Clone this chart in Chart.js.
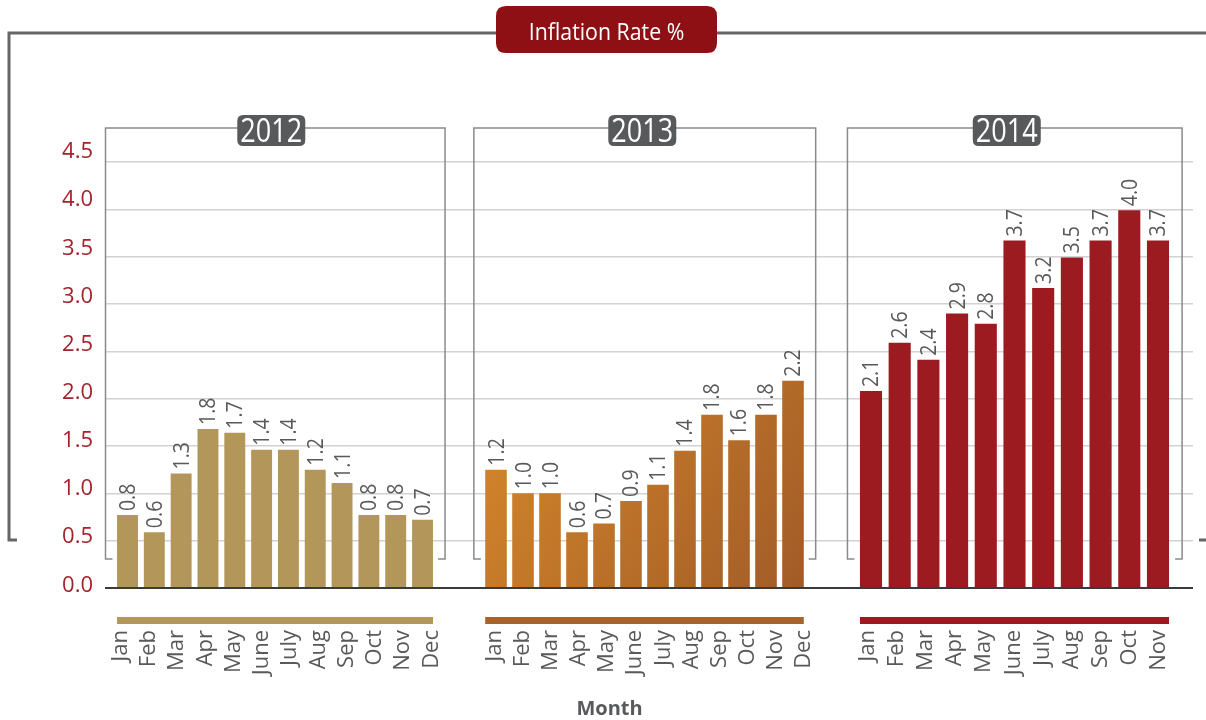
<!DOCTYPE html>
<html>
<head>
<meta charset="utf-8">
<script src="https://cdn.jsdelivr.net/npm/chart.js@4/dist/chart.umd.min.js"></script>
<style>
html,body{margin:0;padding:0;background:#fff;}
canvas{display:block;}
</style>
</head>
<body>
<canvas id="c" width="1206" height="720"></canvas>
<script>
// ---------------- data ----------------
const YEARS = ['2012', '2013', '2014'];
const MONTHS_2012 = ['Jan','Feb','Mar','Apr','May','June','July','Aug','Sep','Oct','Nov','Dec'];
const MONTHS_2013 = ['Jan','Feb','Mar','Apr','May','June','July','Aug','Sep','Oct','Nov','Dec'];
const MONTHS_2014 = ['Jan','Feb','Mar','Apr','May','June','July','Aug','Sep','Oct','Nov'];
// bar heights as drawn
const RATES_2012 = [0.77, 0.59, 1.21, 1.68, 1.64, 1.46, 1.46, 1.25, 1.11, 0.77, 0.77, 0.72];
const RATES_2013 = [1.25, 1.00, 1.00, 0.59, 0.68, 0.92, 1.09, 1.45, 1.83, 1.56, 1.83, 2.19];
const RATES_2014 = [2.08, 2.59, 2.41, 2.90, 2.79, 3.67, 3.17, 3.49, 3.67, 3.99, 3.67];
// value labels as printed
const LABELS_2012 = ['0.8','0.6','1.3','1.8','1.7','1.4','1.4','1.2','1.1','0.8','0.8','0.7'];
const LABELS_2013 = ['1.2','1.0','1.0','0.6','0.7','0.9','1.1','1.4','1.8','1.6','1.8','2.2'];
const LABELS_2014 = ['2.1','2.6','2.4','2.9','2.8','3.7','3.2','3.5','3.7','4.0','3.7'];
const Y_TICKS = [0, 0.5, 1, 1.5, 2, 2.5, 3, 3.5, 4, 4.5];
const CHART_TITLE = 'Inflation Rate %';
const X_TITLE = 'Month';

// ---------------- styling / layout ----------------
const FONT = "'Open Sans', 'Noto Sans', sans-serif";
Chart.defaults.font.family = FONT;

function grad2013(c) {
  const chart = c.chart;
  const xs = chart.scales['b2013'], ys = chart.scales.y;
  if (!chart.chartArea || !xs || !ys) return '#C67A2A';
  const g = chart.ctx.createLinearGradient(xs.getPixelForValue(-0.8), ys.getPixelForValue(2.4),
                                           xs.getPixelForValue(11.8), ys.getPixelForValue(0));
  g.addColorStop(0, '#D98B2B');
  g.addColorStop(1, '#A05A27');
  return g;
}

const PANELS = [
  {year: YEARS[0], months: MONTHS_2012, rates: RATES_2012, labels: LABELS_2012,
   fill: '#B3975A', strip: '#B3975A', barPct: 0.78, weight: 355.5,
   bar: {min: -0.839, max: 12.416}, lab: {min: -0.548, max: 12.027}, badgeDx: -4},
  {year: YEARS[1], months: MONTHS_2013, rates: RATES_2013, labels: LABELS_2013,
   fill: grad2013, strip: '#A8632A', barPct: 0.80, weight: 372,
   bar: {min: -1.315, max: 12.463}, lab: {min: -1.208, max: 12.012}, badgeDx: -2.5},
  {year: YEARS[2], months: MONTHS_2014, rates: RATES_2014, labels: LABELS_2014,
   fill: '#9B1B20', strip: '#9B1B20', barPct: 0.77, weight: 360.5,
   bar: {min: -1.341, max: 11.220}, lab: {min: -1.222, max: 11.188}, badgeDx: -8}
];

const GREY_TEXT = '#58595B';

function rrect(ctx, x, y, w, h, r) {
  ctx.beginPath();
  ctx.moveTo(x + r, y);
  ctx.lineTo(x + w - r, y); ctx.quadraticCurveTo(x + w, y, x + w, y + r);
  ctx.lineTo(x + w, y + h - r); ctx.quadraticCurveTo(x + w, y + h, x + w - r, y + h);
  ctx.lineTo(x + r, y + h); ctx.quadraticCurveTo(x, y + h, x, y + h - r);
  ctx.lineTo(x, y + r); ctx.quadraticCurveTo(x, y, x + r, y);
  ctx.closePath();
}

function panelBox(chart, k) {
  const els = chart.getDatasetMeta(k).data;
  const first = els[0], last = els[els.length - 1];
  const sp = (last.x - first.x) / (els.length - 1);
  const a = chart.chartArea;
  return {l: first.x - 0.82 * sp, r: last.x + 0.84 * sp, t: a.top, b: a.bottom - 29, first, last};
}

// place the per-panel x scales side by side across the chart area
function placePanelScales(chart) {
  const a = chart.chartArea;
  const total = PANELS.reduce((s, p) => s + p.weight, 0);
  let x = a.left;
  PANELS.forEach(p => {
    const w = a.width * p.weight / total;
    [['b', p.bar], ['m', p.lab]].forEach(([pre, rng]) => {
      const s = chart.scales[pre + p.year];
      s.left = x; s.right = x + w; s.width = w;
      s.paddingLeft = 0; s.paddingRight = 0;
      s.configure();
      s.min = rng.min; s.max = rng.max;
      s._startPixel = x; s._endPixel = x + w; s._length = w;
      s._startValue = rng.min; s._endValue = rng.max; s._valueRange = rng.max - rng.min;
      s._gridLineItems = null; s._labelItems = null;
    });
    x += w;
  });
}

const decor = {
  id: 'decor',
  afterLayout(chart) { placePanelScales(chart); },
  beforeDatasetsDraw(chart) {
    const ctx = chart.ctx;
    PANELS.forEach((p, k) => {
      const b = panelBox(chart, k);
      ctx.save();
      ctx.strokeStyle = '#8a8a8a';
      ctx.lineWidth = 1.5;
      ctx.beginPath();
      ctx.moveTo(b.l + 7, b.b); ctx.lineTo(b.l, b.b); ctx.lineTo(b.l, b.t);
      ctx.lineTo(b.r, b.t); ctx.lineTo(b.r, b.b); ctx.lineTo(b.r - 7, b.b);
      ctx.stroke();
      ctx.restore();
    });
  },
  afterDatasetsDraw(chart) {
    const ctx = chart.ctx;
    const a = chart.chartArea;
    PANELS.forEach((p, k) => {
      const b = panelBox(chart, k);
      const els = chart.getDatasetMeta(k).data;
      // value labels
      ctx.save();
      ctx.fillStyle = GREY_TEXT;
      ctx.font = '21px ' + FONT;
      ctx.textAlign = 'left';
      ctx.textBaseline = 'alphabetic';
      els.forEach((el, i) => {
        ctx.save();
        ctx.translate(el.x + 0.357 * 21, el.y - 4);
        ctx.rotate(-Math.PI / 2);
        ctx.scale(0.93, 1);
        ctx.fillText(p.labels[i], 0, 0);
        ctx.restore();
      });
      ctx.restore();
      // colour strip under the panel
      ctx.save();
      ctx.fillStyle = p.strip;
      const sl = b.first.x - b.first.width / 2, sr = b.last.x + b.last.width / 2;
      ctx.fillRect(sl, a.bottom + 29, sr - sl, 7);
      ctx.restore();
      // year badge
      const cx = (b.l + b.r) / 2 + p.badgeDx;
      ctx.save();
      ctx.fillStyle = '#58595B';
      rrect(ctx, cx - 34, b.t - 13, 68, 31, 6);
      ctx.fill();
      ctx.fillStyle = '#ffffff';
      ctx.font = '33px ' + FONT;
      ctx.textAlign = 'center';
      ctx.textBaseline = 'alphabetic';
      ctx.translate(cx, b.t + 14);
      ctx.scale(0.82, 1);
      ctx.fillText(p.year, 0, 0);
      ctx.restore();
    });
  },
  afterDraw(chart) {
    const ctx = chart.ctx;
    // outer bracket
    ctx.save();
    ctx.strokeStyle = '#666666';
    ctx.lineWidth = 3;
    ctx.beginPath();
    ctx.moveTo(497, 33); ctx.lineTo(9, 33); ctx.lineTo(9, 540); ctx.lineTo(17, 540);
    ctx.stroke();
    ctx.beginPath();
    ctx.moveTo(717, 33); ctx.lineTo(1212, 33); ctx.lineTo(1212, 540); ctx.lineTo(1199, 540);
    ctx.stroke();
    ctx.restore();
    // title badge
    ctx.save();
    ctx.fillStyle = '#8E1014';
    rrect(ctx, 496, 6, 221, 47, 10);
    ctx.fill();
    ctx.fillStyle = '#ffffff';
    ctx.font = '24.5px ' + FONT;
    ctx.textAlign = 'center';
    ctx.textBaseline = 'alphabetic';
    ctx.translate(606.5, 39.5);
    ctx.scale(0.87, 1);
    ctx.fillText(CHART_TITLE, 0, 0);
    ctx.restore();
    // x title
    ctx.save();
    ctx.fillStyle = GREY_TEXT;
    ctx.font = 'bold 20px ' + FONT;
    ctx.textAlign = 'center';
    ctx.textBaseline = 'alphabetic';
    ctx.fillText(X_TITLE, 609.5, 715);
    ctx.restore();
  }
};

// ---------------- scales ----------------
const scales = {
  y: {
    type: 'linear', axis: 'y', position: 'left', min: 0, max: 4.859,
    afterBuildTicks: s => { s.ticks = Y_TICKS.map(v => ({value: v})); },
    ticks: {display: false},
    grid: {
      drawTicks: false,
      color: c => (c.tick && c.tick.value === 0) ? '#3a3a3a' : '#d2d2d2',
      lineWidth: c => (c.tick && c.tick.value === 0) ? 2 : 1.5
    },
    border: {display: false},
    afterFit: s => { s.width = 0; s.paddingTop = 0; s.paddingBottom = 0; }
  },
  yl: {
    type: 'linear', axis: 'y', position: 'left', min: -0.028, max: 4.749,
    afterBuildTicks: s => { s.ticks = Y_TICKS.map(v => ({value: v})); },
    ticks: {color: '#A3232A', font: {size: 22}, padding: 12, callback: v => Number(v).toFixed(1)},
    grid: {display: false, drawTicks: false},
    border: {display: false},
    afterFit: s => { s.width = 105; s.paddingTop = 0; s.paddingBottom = 0; }
  }
};
PANELS.forEach(p => {
  scales['b' + p.year] = {
    type: 'linear', axis: 'x', position: 'bottom', display: false, offset: false,
    stack: 'bars', stackWeight: p.weight, min: p.bar.min, max: p.bar.max,
    afterBuildTicks: s => { s.ticks = p.rates.map((_, i) => ({value: i})); },
    grid: {display: false, offset: false}, border: {display: false},
    afterFit: s => { s.height = 0; s.paddingLeft = 0; s.paddingRight = 0; }
  };
  scales['m' + p.year] = {
    type: 'linear', axis: 'x', position: 'bottom', offset: false,
    stack: 'months', stackWeight: p.weight, min: p.lab.min, max: p.lab.max,
    afterBuildTicks: s => { s.ticks = p.months.map((_, i) => ({value: i})); },
    ticks: {
      autoSkip: false, minRotation: 90, maxRotation: 90, padding: 42,
      color: GREY_TEXT, font: {size: 22},
      callback: v => p.months[Math.round(v)]
    },
    grid: {display: false, drawTicks: false, offset: false},
    border: {display: false},
    afterFit: s => { s.height = 132; s.paddingLeft = 0; s.paddingRight = 0; }
  };
});

new Chart(document.getElementById('c'), {
  type: 'bar',
  data: {
    datasets: PANELS.map(p => ({
      label: p.year,
      data: p.rates.map((v, i) => ({x: i, y: v})),
      xAxisID: 'b' + p.year,
      yAxisID: 'y',
      backgroundColor: p.fill,
      borderWidth: 0,
      grouped: false,
      barPercentage: p.barPct,
      categoryPercentage: 1
    }))
  },
  options: {
    responsive: false,
    animation: false,
    devicePixelRatio: 1,
    events: [],
    layout: {padding: {top: 128, right: 13, bottom: 0, left: 0}, autoPadding: false},
    plugins: {legend: {display: false}, tooltip: {enabled: false}, title: {display: false}},
    scales
  },
  plugins: [decor]
});
</script>
</body>
</html>
